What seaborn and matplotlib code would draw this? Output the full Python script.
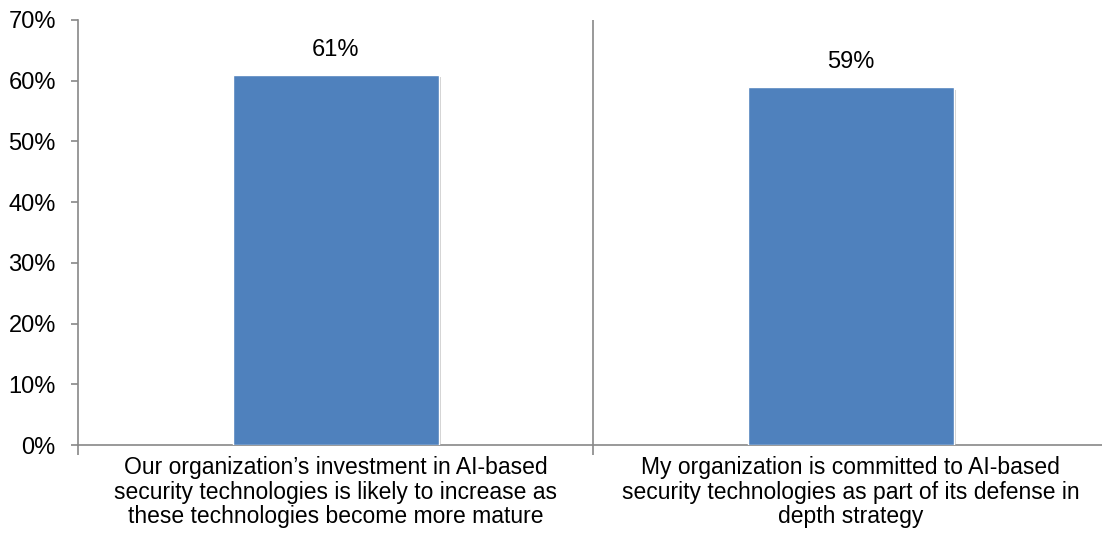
import matplotlib
matplotlib.use("Agg")
import matplotlib.pyplot as plt
import matplotlib.patheffects as pe
import seaborn as sns
import pandas as pd

categories = [
    "Our organization\u2019s investment in AI-based\nsecurity technologies is likely to increase as\nthese technologies become more mature",
    "My organization is committed to AI-based\nsecurity technologies as part of its defense in\ndepth strategy",
]
values = [61, 59]
yticks = [0, 10, 20, 30, 40, 50, 60, 70]

sns.set_theme(style="white")
plt.rcParams['font.family'] = ['Liberation Sans', 'DejaVu Sans']

df = pd.DataFrame({"cat": categories, "val": values})

fig = plt.figure(figsize=(11.02, 5.42), dpi=100)
ax = fig.add_axes([78/1102, 1-445/542, 1030/1102, 425/542])

sns.barplot(data=df, x="cat", y="val", color="#4F81BD", width=0.4, saturation=1, ax=ax, zorder=3)
for p in ax.patches:
    p.set_path_effects([pe.SimplePatchShadow(offset=(2, -2), shadow_rgbFace="#999999", alpha=0.5), pe.Normal()])

for i, v in enumerate(values):
    ax.annotate(f"{v}%", (i, v), xytext=(0, 10), textcoords="offset points",
                ha="center", va="bottom", fontsize=17, color="black")

ax.set_xlim(-0.5, 1.5)
ax.set_ylim(0, 70)
ax.set_yticks(yticks)
ax.set_yticklabels([f"{t}%" for t in yticks], fontsize=17, color="black")
ax.set_xticks(range(len(categories)))
ax.set_xticklabels(categories, fontsize=16.5, color="black", linespacing=1.08)
ax.tick_params(axis="x", length=0, pad=8)
ax.tick_params(axis="y", length=5, width=1.2, color="#888888", direction="out", left=True, pad=11)
ax.set_xticks([-0.5, 0.5, 1.5], minor=True)
ax.tick_params(axis="x", which="minor", length=7, width=1.2, color="#888888", direction="out", bottom=True)
ax.axvline(0.5, color="#888888", lw=1.2, zorder=1)
ax.set_xlabel("")
ax.set_ylabel("")

for s in ["top", "right"]:
    ax.spines[s].set_visible(False)
for s in ["left", "bottom"]:
    ax.spines[s].set_color("#888888")
    ax.spines[s].set_linewidth(1.2)

fig.savefig("out.png", dpi=100)
